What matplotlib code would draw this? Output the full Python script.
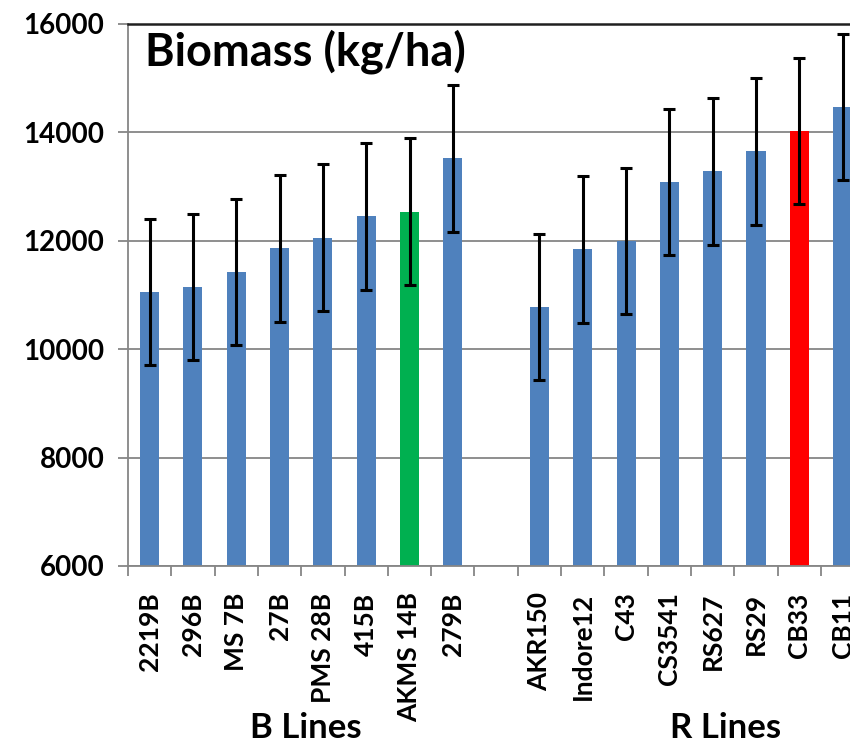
import matplotlib
matplotlib.use("Agg")
import matplotlib.pyplot as plt
import numpy as np

# biomass means and error (kg/ha) for B and R lines
b_lines = ["2219B", "296B", "MS 7B", "27B", "PMS 28B", "415B", "AKMS 14B", "279B"]
b_means = [11060, 11150, 11430, 11860, 12060, 12450, 12540, 13520]
b_err = [1350, 1350, 1350, 1355, 1350, 1352, 1350, 1350]

r_lines = ["AKR150", "Indore12", "C43", "CS3541", "RS627", "RS29", "CB33", "CB11"]
r_means = [10780, 11840, 12000, 13080, 13280, 13650, 14020, 14470]
r_err = [1350, 1350, 1350, 1350, 1350, 1350, 1350, 1350]

BLUE = "#4F81BD"
GREEN = "#00B050"
RED = "#FF0000"
GRID = "#868686"

b_colors = [BLUE] * 6 + [GREEN, BLUE]
r_colors = [BLUE] * 6 + [RED, BLUE]

font = "Lato"

fig = plt.figure(figsize=(8.5, 7.43), dpi=100)
ax = fig.add_axes([128 / 850, 177 / 743, 722 / 850, 542 / 743])

xb = np.arange(len(b_lines))
xr = np.arange(len(r_lines)) + len(b_lines) + 1
x = np.concatenate([xb, xr])
means = b_means + r_means
errs = b_err + r_err
colors = b_colors + r_colors
labels = b_lines + r_lines

ax.bar(x, np.array(means) - 6000, bottom=6000, width=0.44, color=colors, zorder=2)
ax.errorbar(x, means, yerr=errs, fmt="none", ecolor="black", elinewidth=2.2,
            capsize=4.3, capthick=2.2, zorder=3)

ax.set_ylim(6000, 16000)
ax.set_xlim(-0.5, 16.17)
ax.set_yticks(np.arange(6000, 16001, 2000))
ax.yaxis.grid(True, color=GRID, linewidth=1.3, zorder=0)
ax.set_axisbelow(True)

ax.set_xticks(x)
ax.set_xticklabels(labels, rotation=90, fontfamily=font, fontweight="bold",
                   fontsize=19, va="top", ha="center")
ax.set_xticks(np.arange(-0.5, 16.0, 1.0), minor=True)
ax.tick_params(axis="x", which="major", length=0, pad=19)
ax.tick_params(axis="x", which="minor", length=7, width=1.3, color=GRID,
               direction="out")
ax.tick_params(axis="y", length=7, width=1.3, color=GRID, direction="out", pad=10)
for lab in ax.get_yticklabels():
    lab.set_fontfamily(font)
    lab.set_fontweight("bold")
    lab.set_fontsize(20)

ax.spines["right"].set_visible(False)
ax.spines["top"].set_color("#202020")
ax.spines["top"].set_linewidth(1.8)
for side in ["left", "bottom"]:
    ax.spines[side].set_color(GRID)
    ax.spines[side].set_linewidth(1.3)

fig.text(145 / 850, (743 - 66) / 743, "Biomass (kg/ha)", fontfamily=font,
         fontweight="bold", fontsize=32.5, va="baseline", ha="left")

# group captions below the rotated labels
cap_y = (5 - 177) / 542
ax.text(3.6, cap_y, "B Lines", transform=ax.get_xaxis_transform(),
        fontfamily=font, fontweight="bold", fontsize=25, ha="center",
        va="baseline")
ax.text(13.3, cap_y, "R Lines", transform=ax.get_xaxis_transform(),
        fontfamily=font, fontweight="bold", fontsize=25, ha="center",
        va="baseline")

fig.savefig("out.png", dpi=100)
